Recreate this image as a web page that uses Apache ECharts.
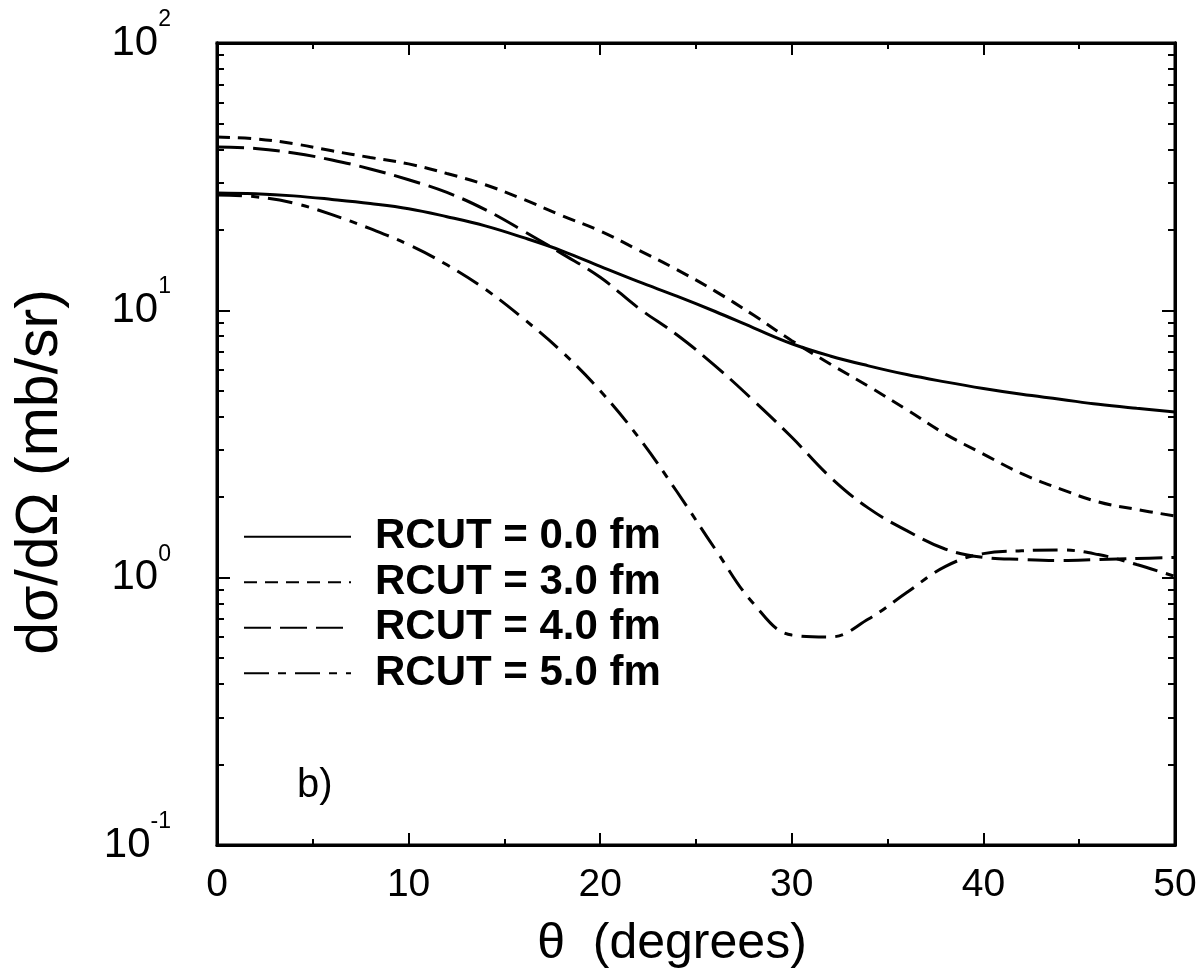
<!DOCTYPE html>
<html>
<head>
<meta charset="utf-8">
<script src="https://cdn.jsdelivr.net/npm/echarts@6/dist/echarts.min.js"></script>
<style>
html,body{margin:0;padding:0;background:#fff;}
#chart{width:1204px;height:973px;}
</style>
</head>
<body>
<div id="chart"></div>
<script>
// scattering angle theta (degrees)
const theta = [0,2,4,6,8,10,12,14,16,18,20,22,24,26,28,30,32,34,36,38,40,42,44,46,48,50];
// dσ/dΩ (mb/sr) for each RCUT
const rcut0 = [27.5,27.3,26.8,26.0,25.1,24.0,22.4,20.7,18.7,16.7,14.6,12.8,11.3,9.9,8.6,7.5,6.75,6.2,5.75,5.4,5.1,4.85,4.65,4.45,4.3,4.17];
const rcut3 = [44.5,43.8,42.0,39.5,37.3,35.3,32.5,29.5,26.0,22.6,19.8,16.8,14.2,11.8,9.6,7.7,6.3,5.2,4.25,3.45,2.9,2.45,2.15,1.92,1.8,1.70];
const rcut4 = [40.8,40.3,38.8,36.5,33.8,30.8,27.6,23.8,19.8,16.3,13.3,10.2,8.1,6.2,4.6,3.35,2.38,1.82,1.50,1.28,1.19,1.17,1.16,1.17,1.18,1.19];
const rcut5 = [27.0,26.6,25.2,22.8,20.2,17.6,14.8,12.0,9.3,7.0,5.0,3.35,2.1,1.28,0.80,0.61,0.60,0.70,0.88,1.10,1.23,1.26,1.27,1.22,1.12,1.01];
const seriesNames = ['RCUT = 0.0 fm','RCUT = 3.0 fm','RCUT = 4.0 fm','RCUT = 5.0 fm'];
const xTicks = [0,10,20,30,40,50];
const yMajor = [0.1,1,10,100];
const yMinor = [0.2,0.3,0.4,0.5,0.6,0.7,0.8,0.9,2,3,4,5,6,7,8,9,20,30,40,50,60,70,80,90];

const FONT = "'Liberation Sans', Arial, Helvetica, sans-serif";
const pair = vals => theta.map((t,i)=>[t, vals[i]]);

const chart = echarts.init(document.getElementById('chart'), null, {renderer:'canvas'});

function yAxisCfg(pos, values, len, labels){
  return {
    type:'log', logBase:10, min:0.1, max:100, position:pos,
    axisLine:{show:true, lineStyle:{color:'#000', width:3}},
    axisTick:{show:true, inside:true, length:len, customValues:values, lineStyle:{color:'#000', width:2}},
    axisLabel: labels ? {
      show:true, customValues:yMajor, margin:46, padding:[0,0,14,0],
      fontFamily:FONT, color:'#000',
      formatter: v => '{a|10}{b|' + Math.round(Math.log10(v)) + '}',
      rich:{
        a:{fontSize:42, fontFamily:FONT, color:'#000', padding:[14,0,0,0]},
        b:{fontSize:23, fontFamily:FONT, color:'#000', verticalAlign:'top'}
      }
    } : {show:false},
    splitLine:{show:false}, minorTick:{show:false}, minorSplitLine:{show:false}
  };
}
function xAxisCfg(pos, labels){
  return {
    type:'value', min:0, max:50, interval:10, position:pos,
    axisLine:{show:true, lineStyle:{color:'#000', width:3}},
    axisTick:{show:true, inside:true, length:12, lineStyle:{color:'#000', width:2}},
    minorTick:{show:true, splitNumber:2, length:6, lineStyle:{color:'#000', width:2}},
    axisLabel: labels ? {show:true, margin:21, fontSize:39, fontFamily:FONT, color:'#000', showMinLabel:true, showMaxLabel:true} : {show:false},
    splitLine:{show:false}, minorSplitLine:{show:false}
  };
}

const styles = [
  {type:'solid', width:3},
  {type:[13,8], width:3},
  {type:[27,9], width:3},
  {type:[25,9,8,9], width:3}
];
const dataSets = [rcut0, rcut3, rcut4, rcut5];

chart.setOption({
  animation:false,
  backgroundColor:'#fff',
  grid:{left:217, right:29, top:43, bottom:128, containLabel:false, outerBoundsMode:'none',
        show:true, borderColor:'#000', borderWidth:3, backgroundColor:'transparent'},
  xAxis:[xAxisCfg('bottom', true), xAxisCfg('top', false)],
  yAxis:[
    yAxisCfg('left', yMajor, 13, true),
    yAxisCfg('left', yMinor, 7, false),
    yAxisCfg('right', yMajor, 13, false),
    yAxisCfg('right', yMinor, 7, false)
  ],
  legend:{
    show:true, orient:'vertical', left:243, top:514, padding:0, itemGap:0,
    itemWidth:107, itemHeight:14, selectedMode:false,
    itemStyle:{opacity:0},
    data:seriesNames,
    textStyle:{fontFamily:FONT, fontSize:42, fontWeight:'bold', color:'#000', lineHeight:45.5, padding:[0,0,0,19]}
  },
  series: dataSets.map((d,i)=>({
    name:seriesNames[i], type:'line', xAxisIndex:0, yAxisIndex:0,
    data:pair(d), smooth:0.4, symbol:'none', symbolSize:0, showSymbol:false,
    lineStyle:{color:'#000', width:styles[i].width, type:styles[i].type},
    itemStyle:{color:'#000'},
    emphasis:{disabled:true}
  })),
  graphic:[
    {type:'text', x:41, y:472, rotation:Math.PI/2,
     style:{text:'dσ/dΩ (mb/sr)', fontFamily:FONT, fontSize:59, fill:'#000', align:'center', verticalAlign:'middle'}},
    {type:'text', x:672, y:944,
     style:{text:'θ  (degrees)', fontFamily:FONT, fontSize:50, fill:'#000', align:'center', verticalAlign:'middle'}},
    {type:'text', x:297, y:786,
     style:{text:'b)', fontFamily:FONT, fontSize:40, fill:'#000', align:'left', verticalAlign:'middle'}}
  ]
});
</script>
</body>
</html>
